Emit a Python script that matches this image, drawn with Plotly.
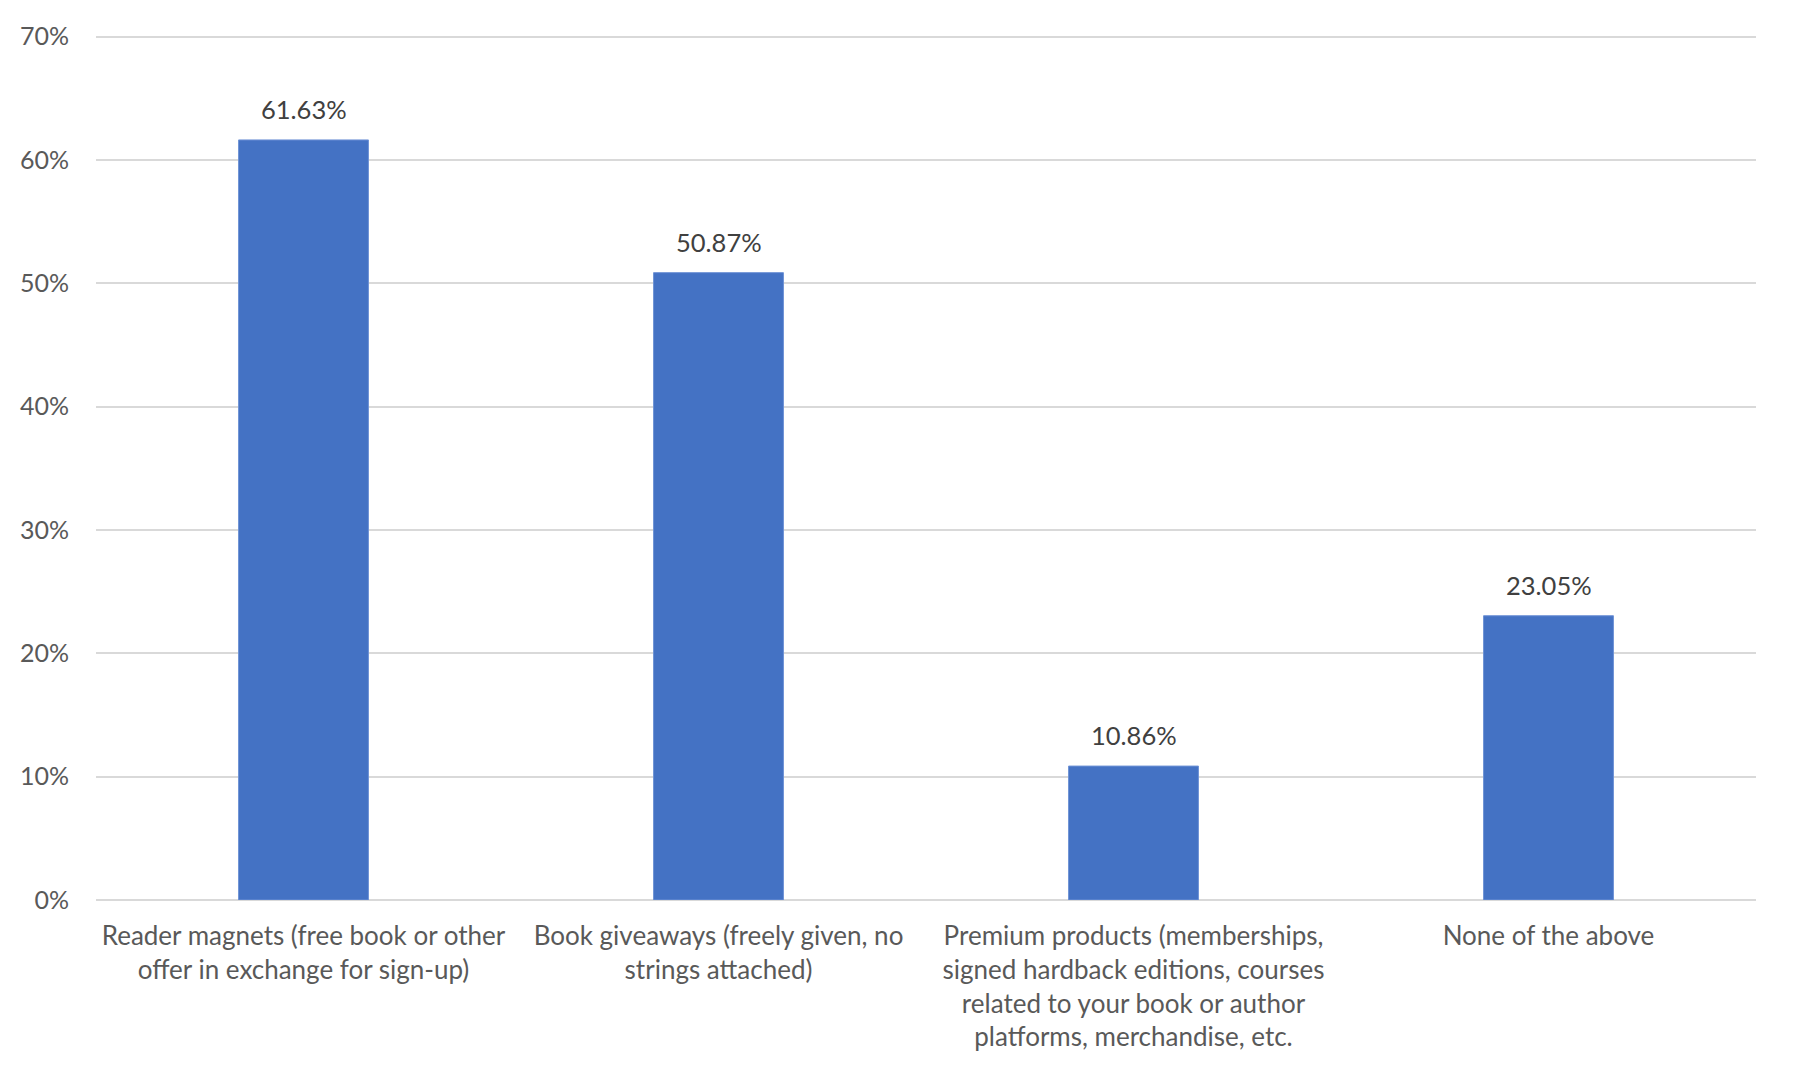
import plotly.graph_objects as go

categories = [
    "Reader magnets (free book or other<br>offer in exchange for sign-up)",
    "Book giveaways (freely given, no<br>strings attached)",
    "Premium products (memberships,<br>signed hardback editions, courses<br>related to your book or author<br>platforms, merchandise, etc.",
    "None of the above",
]
values = [61.63, 50.87, 10.86, 23.05]
value_labels = ["61.63%", "50.87%", "10.86%", "23.05%"]
y_ticks = [0, 10, 20, 30, 40, 50, 60, 70]
y_tick_labels = ["0%", "10%", "20%", "30%", "40%", "50%", "60%", "70%"]

FONT = "Lato"
fig = go.Figure()
fig.add_trace(go.Bar(
    x=categories, y=values,
    marker=dict(color="#4472C4", line=dict(color="#6F93D6", width=1)),
    hoverinfo="skip",
))
for c, v, t in zip(categories, values, value_labels):
    fig.add_annotation(x=c, y=v, text=t, showarrow=False, yanchor="bottom",
                       yshift=14, font=dict(family=FONT, size=25.5, color="#404040"))

fig.update_layout(
    width=1794, height=1080,
    margin=dict(l=96, r=38, t=33, b=180),
    plot_bgcolor="white", paper_bgcolor="white",
    bargap=0.687, showlegend=False,
    font=dict(family=FONT, size=26, color="#595959"),
)
fig.update_xaxes(showline=False, ticks="", tickangle=0, ticklabelstandoff=18,
                 tickfont=dict(family=FONT, size=26, color="#595959"))
fig.update_yaxes(range=[0, 70.3], tickvals=y_ticks, ticktext=y_tick_labels,
                 showgrid=True, gridcolor="#D9D9D9", gridwidth=1.5,
                 zeroline=True, zerolinecolor="#D9D9D9", zerolinewidth=2,
                 showline=False, ticks="", ticklabelstandoff=26,
                 tickfont=dict(family=FONT, size=25, color="#595959"))
fig.write_html("out.html")
